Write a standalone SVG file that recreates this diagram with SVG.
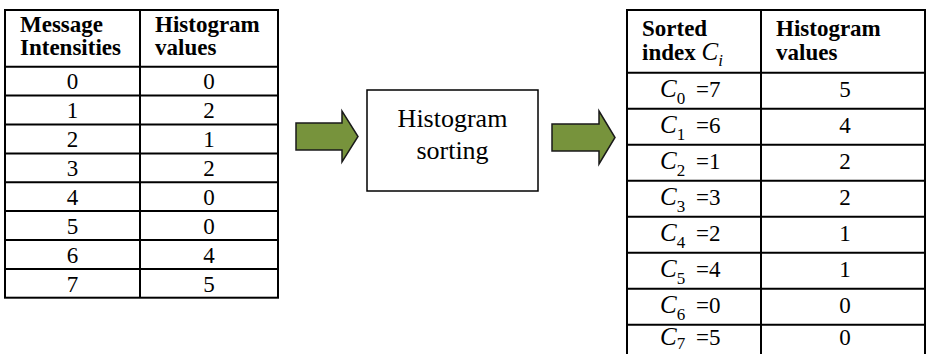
<svg xmlns="http://www.w3.org/2000/svg" width="927" height="354" viewBox="0 0 927 354">
<style>
.grid{stroke:#000;stroke-width:2;fill:none}
.hd{font-family:"Liberation Serif","Times New Roman",serif;font-weight:bold;font-size:23px;fill:#000}
.bd{font-family:"Liberation Serif","Times New Roman",serif;font-size:23px;fill:#000;text-anchor:middle}
.ci{font-family:"Liberation Serif","Times New Roman",serif;font-style:italic;font-size:25px;fill:#000}
.sb{font-family:"Liberation Serif","Times New Roman",serif;font-size:17px;fill:#000}
.eq{font-family:"Liberation Serif","Times New Roman",serif;font-size:23px;fill:#000}
.arrow{fill:#77933C;stroke:#1a1a1a;stroke-width:1.5;stroke-linejoin:miter}
.box{fill:#fff;stroke:#000;stroke-width:1.5}
.bx{font-family:"Liberation Serif","Times New Roman",serif;font-size:26px;fill:#000;text-anchor:middle}
</style>

<g id="input-table">
  <rect class="grid" x="5" y="10" width="273" height="287.7"/>
  <line class="grid" x1="140" y1="10" x2="140" y2="297.7"/>
  <line class="grid" x1="5" y1="66.7" x2="278" y2="66.7"/>
  <line class="grid" x1="5" y1="95.6" x2="278" y2="95.6"/>
  <line class="grid" x1="5" y1="124.5" x2="278" y2="124.5"/>
  <line class="grid" x1="5" y1="153.4" x2="278" y2="153.4"/>
  <line class="grid" x1="5" y1="182.3" x2="278" y2="182.3"/>
  <line class="grid" x1="5" y1="211.1" x2="278" y2="211.1"/>
  <line class="grid" x1="5" y1="240" x2="278" y2="240"/>
  <line class="grid" x1="5" y1="268.9" x2="278" y2="268.9"/>
  <text class="hd" x="20" y="32">Message</text>
  <text class="hd" x="20" y="55">Intensities</text>
  <text class="hd" x="155" y="32">Histogram</text>
  <text class="hd" x="155" y="55">values</text>
  <g class="bd">
    <text x="72.5" y="89">0</text><text x="209" y="89">0</text>
    <text x="72.5" y="118">1</text><text x="209" y="118">2</text>
    <text x="72.5" y="147">2</text><text x="209" y="147">1</text>
    <text x="72.5" y="176">3</text><text x="209" y="176">2</text>
    <text x="72.5" y="205">4</text><text x="209" y="205">0</text>
    <text x="72.5" y="233.5">5</text><text x="209" y="233.5">0</text>
    <text x="72.5" y="262.5">6</text><text x="209" y="262.5">4</text>
    <text x="72.5" y="291.5">7</text><text x="209" y="291.5">5</text>
  </g>
</g>

<g id="sorting-box">
  <rect class="box" x="367" y="90" width="171" height="101"/>
  <text class="bx" x="452.5" y="127">Histogram</text>
  <text class="bx" x="452.5" y="159">sorting</text>
</g>

<g id="output-table">
  <line class="grid" x1="627" y1="10" x2="925" y2="10"/>
  <line class="grid" x1="627" y1="9" x2="627" y2="354"/>
  <line class="grid" x1="761" y1="10" x2="761" y2="354"/>
  <line class="grid" x1="925" y1="9" x2="925" y2="354"/>
  <line class="grid" x1="627" y1="72.7" x2="925" y2="72.7"/>
  <line class="grid" x1="627" y1="108.7" x2="925" y2="108.7"/>
  <line class="grid" x1="627" y1="144.7" x2="925" y2="144.7"/>
  <line class="grid" x1="627" y1="180.7" x2="925" y2="180.7"/>
  <line class="grid" x1="627" y1="216.7" x2="925" y2="216.7"/>
  <line class="grid" x1="627" y1="252.7" x2="925" y2="252.7"/>
  <line class="grid" x1="627" y1="288.7" x2="925" y2="288.7"/>
  <line class="grid" x1="627" y1="324.7" x2="925" y2="324.7"/>
  <text class="hd" x="642" y="36">Sorted</text>
  <text class="hd" x="642" y="60">index <tspan class="ci" font-weight="normal">C</tspan><tspan class="sb" font-weight="normal" font-style="italic" dy="6">i</tspan></text>
  <text class="hd" x="776" y="36">Histogram</text>
  <text class="hd" x="776" y="60">values</text>

  <g id="r0"><text x="660" y="97"><tspan class="ci">C</tspan><tspan class="sb" dy="7">0</tspan><tspan class="eq" dy="-7" x="696">=7</tspan></text><text class="bd" x="845" y="97">5</text></g>
  <g id="r1"><text x="660" y="133"><tspan class="ci">C</tspan><tspan class="sb" dy="7">1</tspan><tspan class="eq" dy="-7" x="696">=6</tspan></text><text class="bd" x="845" y="133">4</text></g>
  <g id="r2"><text x="660" y="169"><tspan class="ci">C</tspan><tspan class="sb" dy="7">2</tspan><tspan class="eq" dy="-7" x="696">=1</tspan></text><text class="bd" x="845" y="169">2</text></g>
  <g id="r3"><text x="660" y="205"><tspan class="ci">C</tspan><tspan class="sb" dy="7">3</tspan><tspan class="eq" dy="-7" x="696">=3</tspan></text><text class="bd" x="845" y="205">2</text></g>
  <g id="r4"><text x="660" y="241"><tspan class="ci">C</tspan><tspan class="sb" dy="7">4</tspan><tspan class="eq" dy="-7" x="696">=2</tspan></text><text class="bd" x="845" y="241">1</text></g>
  <g id="r5"><text x="660" y="277"><tspan class="ci">C</tspan><tspan class="sb" dy="7">5</tspan><tspan class="eq" dy="-7" x="696">=4</tspan></text><text class="bd" x="845" y="277">1</text></g>
  <g id="r6"><text x="660" y="313"><tspan class="ci">C</tspan><tspan class="sb" dy="7">6</tspan><tspan class="eq" dy="-7" x="696">=0</tspan></text><text class="bd" x="845" y="313">0</text></g>
  <g id="r7"><text x="660" y="345"><tspan class="ci">C</tspan><tspan class="sb" dy="4">7</tspan><tspan class="eq" dy="-4" x="696">=5</tspan></text><text class="bd" x="845" y="345">0</text></g>
</g>

<g id="connectors">
  <polygon class="arrow" points="296,123 342,123 342,111 358,136.5 342,162 342,150 296,150"/>
  <polygon class="arrow" points="552,124 599,124 599,111 615,137.5 599,164 599,151 552,151"/>
</g>
</svg>
